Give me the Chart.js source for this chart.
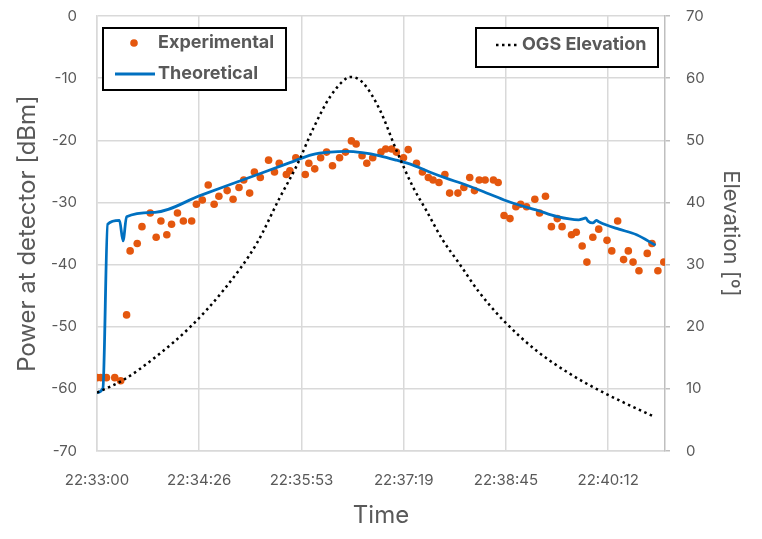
<!DOCTYPE html>
<html>
<head>
<meta charset="utf-8">
<script src="https://cdn.jsdelivr.net/npm/chart.js@4.4.1/dist/chart.umd.min.js"></script>
<style>
  html, body { margin: 0; padding: 0; background: #fff; }
  #wrap { width: 762px; height: 539px; }
</style>
</head>
<body>
<div id="wrap"><canvas id="chart" width="762" height="539"></canvas></div>
<script>
// time is seconds after 22:33:00
const timeLabels = ['22:33:00', '22:34:26', '22:35:53', '22:37:19', '22:38:45', '22:40:12'];
const tickStep = 86.4; // Excel major unit 0.001 day

const expTime = [0, 3, 8, 15, 20, 25, 28, 34, 38, 45, 50, 54, 59, 63, 68, 73, 80, 84, 89, 94,
  99, 103, 110, 115, 120, 124, 129, 133, 138, 145, 150, 154, 160, 163, 168, 176, 179, 184, 189, 194,
  199, 205, 210, 215, 219, 224, 228, 233, 240, 244, 249, 253, 259, 263, 270, 275, 280, 284, 289, 294,
  298, 305, 310, 315, 319, 323, 328, 335, 339, 344, 349, 354, 358, 363, 370, 374, 379, 384, 389, 393,
  401, 405, 410, 414, 419, 424, 431, 435, 440, 445, 449, 453, 458, 465, 469, 474, 479];
const expPower = [-58.2, -58.2, -58.2, -58.2, -58.7, -48.1, -37.8, -36.6, -33.9, -31.7, -35.6, -33.0, -35.2, -33.5, -31.7, -33.0, -33.0, -30.3, -29.6, -27.2,
  -30.3, -29.0, -28.1, -29.5, -27.6, -26.4, -28.5, -25.1, -26.0, -23.2, -25.1, -23.7, -25.5, -24.9, -22.8, -25.5, -23.7, -24.6, -22.8, -21.9,
  -24.1, -22.8, -21.9, -20.1, -20.6, -22.5, -23.7, -22.8, -21.9, -21.4, -21.4, -21.9, -22.8, -21.5, -23.7, -25.1, -26.0, -26.4, -26.8, -25.5,
  -28.5, -28.5, -27.6, -26.0, -28.1, -26.4, -26.4, -26.4, -26.8, -32.1, -32.6, -30.7, -30.3, -30.7, -29.5, -31.7, -29.0, -33.9, -32.6, -33.9,
  -35.2, -34.8, -37.0, -39.6, -35.6, -34.3, -36.1, -37.8, -33.0, -39.2, -37.8, -39.6, -41.0, -38.2, -36.6, -41.0, -39.6];

const theoTime = [0, 5, 9, 19, 22, 25, 49, 87, 123, 163, 182, 197, 211, 224, 239, 253, 267, 281, 295, 309,
  323, 344, 358, 371, 389, 407, 411, 413, 415, 419, 422, 424, 430, 441, 456, 472];
const theoPower = [-60.6, -59.9, -33.5, -32.9, -36.2, -32.3, -31.6, -28.9, -26.4, -23.6, -22.3, -21.9, -21.8, -22.0, -22.5, -23.2, -24.0, -25.1, -26.1, -27.0,
  -28.0, -29.6, -30.5, -31.2, -32.3, -32.8, -32.6, -32.5, -33.0, -33.3, -32.9, -33.1, -33.6, -34.3, -35.2, -36.9];

const elevTime = [0, 22, 50, 79, 107, 135, 154, 169, 183, 197, 211, 215, 225, 239, 253, 267, 278, 292, 306, 322, 343, 371, 399, 427, 471];
const elevDeg = [9.4, 11.4, 15.2, 20.0, 25.9, 33.4, 40.6, 46.0, 52.0, 57.0, 60.0, 60.2, 59.2, 54.9, 48.4, 42.5, 38.8, 34.0, 30.2, 25.8, 21.1, 16.2, 12.5, 9.5, 5.5];

const txt = '#595959';
const grid = '#d9d9d9';
const orange = '#E4570E';
const blue = '#0070C0';
const fontFam = 'Inter, "Noto Sans", sans-serif';

const toXY = (xs, ys) => xs.map((x, i) => ({ x: x, y: ys[i] }));

// fixed axis box sizes so the plot area sits where Excel put it
const fixWidth = s => { s.width = 97; s.paddingTop = 0; s.paddingBottom = 0; };

// the two legend boxes drawn inside the plot area
const legendBoxes = {
  id: 'legendBoxes',
  afterDraw(chart) {
    const ctx = chart.ctx;
    const a = chart.chartArea;
    ctx.save();
    ctx.lineWidth = 2;
    ctx.strokeStyle = '#000';
    ctx.fillStyle = '#fff';
    // left box
    let bx = a.left + 6, by = a.top + 12;
    ctx.fillRect(bx, by, 183, 62);
    ctx.strokeRect(bx, by, 183, 62);
    ctx.fillStyle = orange;
    ctx.beginPath();
    ctx.arc(bx + 31, by + 15, 3.8, 0, Math.PI * 2);
    ctx.fill();
    ctx.strokeStyle = blue;
    ctx.lineWidth = 3;
    ctx.beginPath();
    ctx.moveTo(bx + 12, by + 46);
    ctx.lineTo(bx + 52, by + 46);
    ctx.stroke();
    ctx.fillStyle = txt;
    ctx.font = 'bold 18px ' + fontFam;
    ctx.textBaseline = 'middle';
    ctx.fillText('Experimental', bx + 55, by + 15);
    ctx.fillText('Theoretical', bx + 55, by + 46);
    // right box
    bx = a.right - 189; by = a.top + 12;
    ctx.lineWidth = 2;
    ctx.strokeStyle = '#000';
    ctx.fillStyle = '#fff';
    ctx.fillRect(bx, by, 182, 39);
    ctx.strokeRect(bx, by, 182, 39);
    ctx.lineWidth = 2.5;
    ctx.setLineDash([2.5, 3.5]);
    ctx.beginPath();
    ctx.moveTo(bx + 20, by + 17);
    ctx.lineTo(bx + 43, by + 17);
    ctx.stroke();
    ctx.setLineDash([]);
    ctx.fillStyle = txt;
    ctx.fillText('OGS Elevation', bx + 46, by + 17);
    ctx.restore();
  }
};

const axisTitle = (text, size, pad) => ({
  display: true,
  text: text,
  color: txt,
  font: { family: fontFam, size: size },
  padding: pad
});

new Chart(document.getElementById('chart').getContext('2d'), {
  type: 'scatter',
  data: {
    datasets: [{
      label: 'Experimental',
      data: toXY(expTime, expPower),
      yAxisID: 'y',
      backgroundColor: orange,
      borderColor: orange,
      pointRadius: 3.8,
      pointBorderWidth: 0,
      order: 3
    }, {
      label: 'Theoretical',
      data: toXY(theoTime, theoPower),
      yAxisID: 'y',
      showLine: true,
      borderColor: blue,
      borderWidth: 2.8,
      pointRadius: 0,
      cubicInterpolationMode: 'monotone',
      order: 2
    }, {
      label: 'OGS Elevation',
      data: toXY(elevTime, elevDeg),
      yAxisID: 'y2',
      showLine: true,
      borderColor: '#000',
      borderWidth: 2.5,
      borderDash: [2.5, 3.5],
      pointRadius: 0,
      cubicInterpolationMode: 'monotone',
      order: 1
    }]
  },
  options: {
    responsive: false,
    animation: false,
    layout: { padding: { top: 16, left: 0, right: 0, bottom: 0 } },
    plugins: {
      legend: { display: false },
      tooltip: { enabled: false }
    },
    scales: {
      x: {
        type: 'linear',
        min: 0,
        max: 480,
        afterFit(s) { s.height = 88; },
        afterBuildTicks(s) { s.ticks = timeLabels.map((l, i) => ({ value: i * tickStep })); },
        ticks: {
          autoSkip: false,
          maxRotation: 0,
          padding: 20,
          color: txt,
          font: { family: fontFam, size: 15 },
          callback: (v, i) => timeLabels[i]
        },
        grid: { color: grid, lineWidth: 1.5, drawTicks: false },
        border: { color: grid, width: 1.5 },
        title: axisTitle('Time', 24, { top: 0, bottom: 9 })
      },
      y: {
        position: 'left',
        min: -70,
        max: 0,
        afterFit: fixWidth,
        ticks: {
          stepSize: 10,
          padding: 20,
          color: txt,
          font: { family: fontFam, size: 15 }
        },
        grid: { color: grid, lineWidth: 1.5, drawTicks: false },
        border: { color: grid, width: 1.5 },
        title: axisTitle('Power at detector [dBm]', 24, { top: 13, bottom: 0 })
      },
      y2: {
        position: 'right',
        min: 0,
        max: 70,
        afterFit: fixWidth,
        ticks: {
          stepSize: 10,
          padding: 16,
          color: txt,
          font: { family: fontFam, size: 15 }
        },
        grid: { drawOnChartArea: false, color: '#bfbfbf', lineWidth: 1.5, tickLength: 5 },
        border: { color: '#bfbfbf', width: 1.5 },
        title: axisTitle('Elevation [º]', 22, { top: 18, bottom: 0 })
      }
    }
  },
  plugins: [legendBoxes]
});
</script>
</body>
</html>
